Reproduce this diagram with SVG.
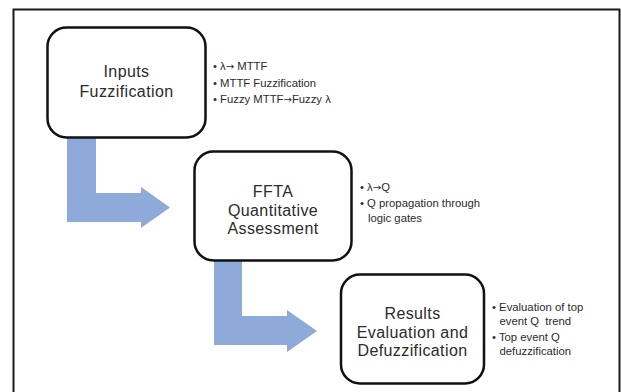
<svg xmlns="http://www.w3.org/2000/svg" width="621" height="392" viewBox="0 0 621 392">
  <style>
    .box { fill: #ffffff; stroke: #111111; stroke-width: 2.5; }
    .title { font-family: "Liberation Sans", Arial, sans-serif; font-size: 16px; letter-spacing: 0.4px; fill: #2b2b2b; text-anchor: middle; }
    .bul { font-family: "Liberation Sans", Arial, sans-serif; font-size: 11.3px; fill: #2b2b2b; }
    .arr { font-family: "DejaVu Sans", sans-serif; font-size: 10px; }
    .flow { fill: #8eaad8; }
  </style>
  <rect x="0" y="0" width="621" height="392" fill="#ffffff"/>
  <rect x="13.5" y="9.5" width="606" height="400" fill="none" stroke="#1a1a1a" stroke-width="2"/>

  <g id="connectors">
    <path class="flow" d="M67,137 H96 V193 H141 V187 L170,207.5 L141,228 V222 H67 Z"/>
    <path class="flow" d="M214,260 H242 V316 H287 V310 L317,331 L287,352 V345 H214 Z"/>
  </g>

  <g id="node-inputs">
    <rect class="box" x="47.5" y="27.5" width="158" height="110" rx="19" ry="19"/>
    <text class="title" x="126.5" y="77">Inputs</text>
    <text class="title" x="126.5" y="97">Fuzzification</text>
    <text class="bul" x="213" y="70">• λ<tspan class="arr">→</tspan> MTTF</text>
    <text class="bul" x="213" y="86.5">• MTTF Fuzzification</text>
    <text class="bul" x="213" y="103">• Fuzzy MTTF<tspan class="arr">→</tspan>Fuzzy λ</text>
  </g>

  <g id="node-ffta">
    <rect class="box" x="194.5" y="151.5" width="157" height="109" rx="19" ry="19"/>
    <text class="title" x="273" y="197">FFTA</text>
    <text class="title" x="273" y="215.5">Quantitative</text>
    <text class="title" x="273" y="234">Assessment</text>
    <text class="bul" x="360" y="191">• λ<tspan class="arr">→</tspan>Q</text>
    <text class="bul" x="360" y="207">• Q propagation through</text>
    <text class="bul" x="368" y="221.5">logic gates</text>
  </g>

  <g id="node-results">
    <rect class="box" x="341" y="274.5" width="143" height="109" rx="19" ry="19"/>
    <text class="title" x="412.5" y="319">Results</text>
    <text class="title" x="412.5" y="337.5">Evaluation and</text>
    <text class="title" x="412.5" y="356">Defuzzification</text>
    <text class="bul" x="492" y="311">• Evaluation of top</text>
    <text class="bul" x="499.5" y="325">event Q&#160; trend</text>
    <text class="bul" x="492" y="341">• Top event Q</text>
    <text class="bul" x="499.5" y="355">defuzzification</text>
  </g>
</svg>
